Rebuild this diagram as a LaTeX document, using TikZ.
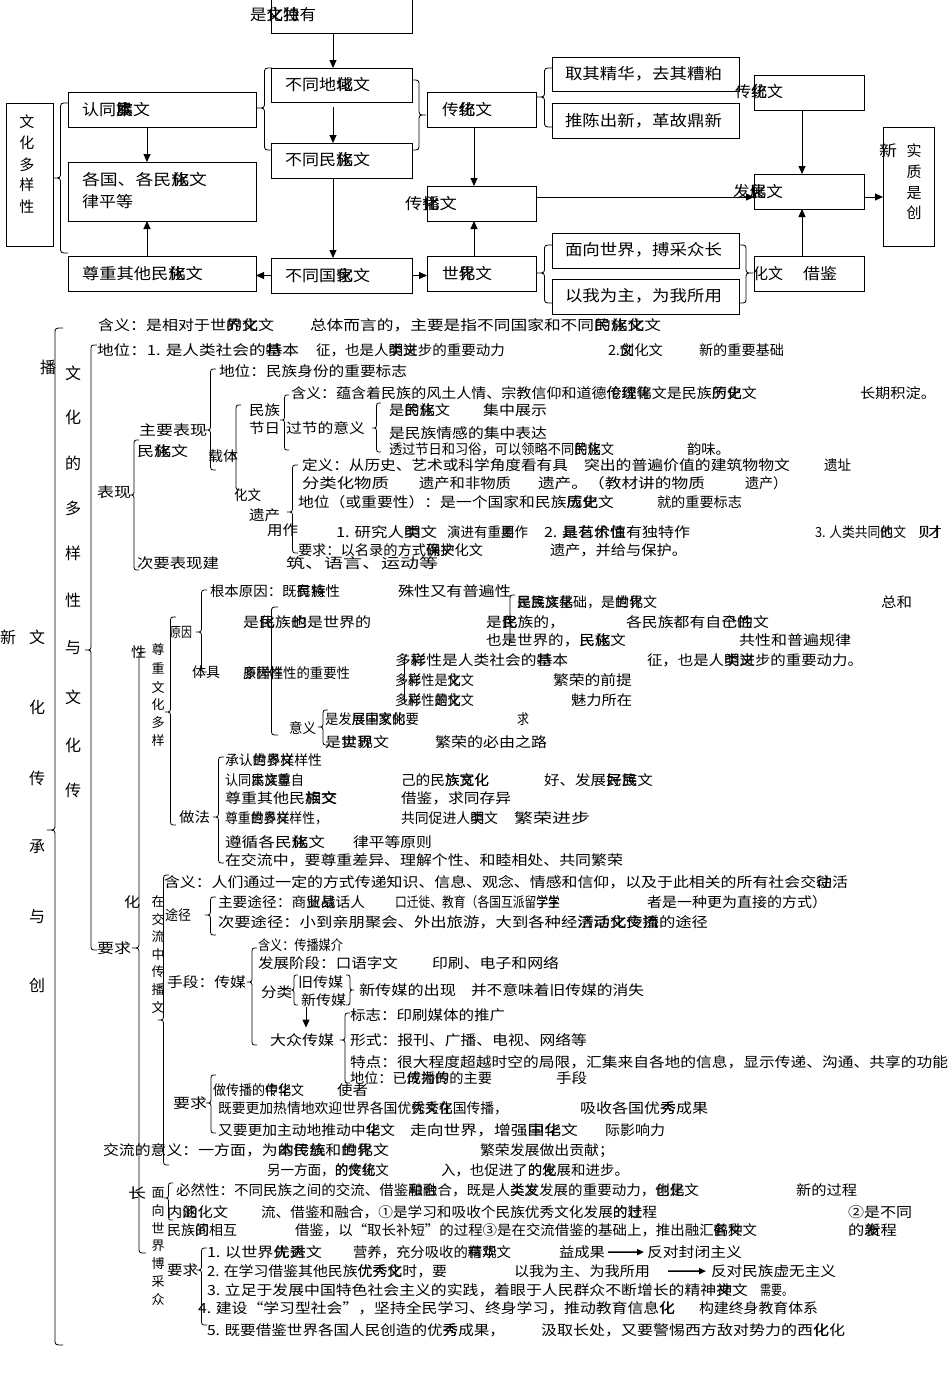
\documentclass[tikz,border=0pt]{standalone}
\usepackage{fontspec}
\setmainfont{Noto Sans CJK SC}
\usepackage{graphicx}
\usetikzlibrary{arrows.meta}
\newcommand\lowf{\fontsize{14}{16}\selectfont}
\newcommand\topf{\fontsize{15.5}{18}\selectfont}
\newcommand\colf{\fontsize{16}{16}\selectfont}
\newcommand\smf{\fontsize{13}{13}\selectfont}
\newcommand\ov[2]{\rlap{#1}#2}
\newcounter{tn}
\newlength\twid
\newcommand\Fitw[3]{%
  \settowidth{\twid}{#2#3}%
  \pgfmathsetmacro\sfx{(#1)/max(\twid,1)}%
  \scalebox{\sfx}[1]{#2#3}}
\newcommand\TT[6]{%
  \node[anchor=base west,inner sep=0pt,outer sep=0pt] (#2) at (#3,#5+5.4) {\Fitw{#4-#3}{#1}{#6}};}
\newcommand\Tx[4]{\stepcounter{tn}\edef\tname{t\arabic{tn}}\TT{\lowf}{\tname}{#1}{#2}{#3}{#4}}
\newcommand\Tn[5]{\TT{\lowf}{#1}{#2}{#3}{#4}{#5}}
\newcommand\Tb[4]{\stepcounter{tn}\edef\tname{t\arabic{tn}}\TT{\topf}{\tname}{#1}{#2}{#3}{#4}}
\newcommand\Brc[5]{%
  \pgfmathsetmacro\bmx{(#1+#2)/2}%
  \pgfmathsetmacro\brr{min(6,(#4-#3)/2,(#5-#4)/2)}%
  \draw[brs] (#2,#3) .. controls (\bmx,#3) .. (\bmx,#3+\brr) -- (\bmx,#4-\brr) .. controls (\bmx,#4) .. (#1,#4) .. controls (\bmx,#4) .. (\bmx,#4+\brr) -- (\bmx,#5-\brr) .. controls (\bmx,#5) .. (#2,#5);}
\newcommand\Bxx[5]{\node[bx,anchor=north west,minimum width={#4-#2},minimum height={#5-#3}] (#1) at (#2,#3) {};}
\tikzset{
  bx/.style={draw,line width=0.9pt,inner sep=0pt,outer sep=0pt},
  brs/.style={line width=0.8pt},
  ar/.style={-{Triangle[length=8pt,width=7pt]},line width=0.9pt},
  bar/.style={-{Triangle[length=7pt,width=6pt]},line width=1.6pt},
  vc/.style={inner sep=0pt,outer sep=0pt,font=\colf},
  vs/.style={inner sep=0pt,outer sep=0pt,font=\smf},
  vt/.style={inner sep=0pt,outer sep=0pt,font=\fontsize{15}{15}\selectfont}
}
\begin{document}
\begin{tikzpicture}[x=1pt,y=-1pt]
\useasboundingbox (0,0) rectangle (950,1373);
\fill[white] (0,0) rectangle (950,1373);
% ---------- top diagram boxes ----------
\Bxx{topb}{271}{-5}{412}{33}
\Bxx{wdb}{6}{103}{53}{246}
\Bxx{rtb}{68}{92}{256}{127}
\Bxx{ggb}{68}{162}{256}{221}
\Bxx{zzb}{68}{256}{256}{291}
\Bxx{bdy}{271}{68}{412}{102}
\Bxx{bmz}{271}{143}{412}{178}
\Bxx{bgj}{271}{258}{412}{293}
\Bxx{ctl}{427}{92}{536}{127}
\Bxx{cbb}{427}{186}{536}{221}
\Bxx{sjb}{427}{256}{536}{291}
\Bxx{qqb}{552}{57}{739}{91}
\Bxx{tcb}{552}{103}{739}{138}
\Bxx{mxb}{552}{233}{739}{268}
\Bxx{ywb}{552}{279}{739}{314}
\Bxx{ctr}{754}{75}{864}{110}
\Bxx{fzb}{754}{174}{864}{209}
\Bxx{jjb}{754}{256}{864}{291}
\Bxx{cxb}{883}{127}{934}{246}
% top texts
\Tb{250}{316}{15}{是\ov{文}{化}\ov{特}{独}有}
\Tb{82}{150}{110}{认同\ov{本}{\ov{民}{族}}文}
\Tb{82}{207}{180}{各国、各民\ov{族}{化}文}
\Tb{82}{133}{202}{律平等}
\Tb{82}{203}{274}{尊重其他民\ov{族}{化}文}
\Tb{285}{370}{85}{不同地\ov{域}{化}文}
\Tb{285}{370}{160}{不同民\ov{族}{化}文}
\Tb{285}{370}{276}{不同国\ov{家}{化}文}
\Tb{442}{492}{110}{传\ov{统}{化}文}
\Tb{405}{457}{204}{传\ov{播}{化}文}
\Tb{442}{492}{274}{世\ov{界}{化}文}
\Tb{565}{722}{74}{取其精华，去其糟粕}
\Tb{565}{722}{121}{推陈出新，革故鼎新}
\Tb{565}{722}{250}{面向世界，搏采众长}
\Tb{565}{722}{296}{以我为主，为我所用}
\Tb{735}{783}{92}{传\ov{统}{化}文}
\Tb{733}{783}{192}{发\ov{展}{化}文}
\Tb{753}{783}{274}{化文}
\Tb{803}{837}{274}{借鉴}
\Tb{879}{897}{151}{新}
\foreach \c/\yy [count=\i] in {实/151,质/172,是/193,创/213} \node[vt] (sz\i) at (914,\yy) {\c};
\foreach \c/\yy [count=\i] in {文/122,化/143,多/165,样/185,性/207} \node[vt] (wd\i) at (27,\yy) {\c};
% top braces
\Brc{53}{68}{103}{178}{253}
\Brc{257}{272}{68}{108}{150}
\Brc{426}{412}{80}{115}{150}
\Brc{537}{552}{68}{97}{127}
\Brc{537}{552}{245}{273}{303}
\Brc{753}{739}{245}{273}{303}
% top arrows
\coordinate (c147) at (147,0);
\coordinate (c333) at (333,0);
\coordinate (c474) at (474,0);
\coordinate (c802) at (802,0);
\coordinate (c197) at (0,197);
\draw[ar] (topb.south -| c333) -- (bdy.north -| c333);
\draw[ar,shorten <=5pt] (bdy.south -| c333) -- (bmz.north -| c333);
\draw[ar] (bmz.south -| c333) -- (bgj.north -| c333);
\draw[ar] (rtb.south -| c147) -- (ggb.north -| c147);
\draw[ar] (zzb.north -| c147) -- (ggb.south -| c147);
\draw[ar] (bgj.west) -- (zzb.east |- bgj.west);
\draw[ar] (bgj.east) -- (sjb.west |- bgj.east);
\draw[ar] (ctl.south -| c474) -- (cbb.north -| c474);
\draw[ar] (sjb.north -| c474) -- (cbb.south -| c474);
\draw[ar] (cbb.east |- c197) -- (fzb.west |- c197);
\draw[ar] (ctr.south -| c802) -- (fzb.north -| c802);
\draw[ar] (jjb.north -| c802) -- (fzb.south -| c802);
\draw[ar] (fzb.east |- c197) -- (cxb.west |- c197);
% ---------- lower outline: columns ----------
\node[vc] (bo1) at (48,367) {播};
\node[vc] (xn1) at (8,637) {新};
\foreach \c/\yy [count=\i] in {文/637,化/707,传/778,承/847,与/917,创/985} \node[vc] (cc\i) at (37,\yy) {\c};
\foreach \c/\yy [count=\i] in {文/373,化/417,的/463,多/508,样/553,性/600,与/648,文/697,化/745,传/790} \node[vc] (dc\i) at (73,\yy) {\c};
\foreach \c/\yy [count=\i] in {尊/650,重/668,文/687,化/705,多/723,样/741} \node[vs] (zc\i) at (158,\yy) {\c};
\foreach \c/\yy [count=\i] in {在/902,交/919.5,流/937,中/954.5,传/972,播/989.5,文/1007} \node[vs] (jc\i) at (158,\yy) {\c};
\foreach \c/\yy [count=\i] in {面/1193,向/1211,世/1228,界/1246,博/1264,采/1282,众/1300} \node[vs] (mc\i) at (158,\yy) {\c};
% ---------- lower braces ----------
\Brc{47}{63}{328}{830}{1345}
\Brc{85}{97}{345}{650}{950}
\Brc{129}{139}{440}{495}{570}
\Brc{205}{216}{369}{430}{470}
\Brc{231}{241}{405}{455}{490}
\Brc{280}{289}{395}{420}{450}
\Brc{372}{381}{403}{428}{452}
\Brc{287}{298}{465}{512}{553}
\Brc{132}{146}{652}{948}{1253}
\Brc{165}{176}{617}{712}{825}
\Brc{196}{207}{590}{632}{672}
\Brc{265}{278}{607}{672}{735}
\Brc{505}{515}{595}{618}{642}
\Brc{400}{409}{656}{680}{705}
\Brc{318}{328}{710}{727}{745}
\Brc{213}{224}{757}{817}{863}
\Brc{158}{169}{875}{1020}{1165}
\Brc{205}{216}{897}{915}{935}
\Brc{247}{257}{948}{982}{1045}
\Brc{290}{298}{975}{990}{1005}
\Brc{354}{346}{975}{990}{1005}
\Brc{340}{350}{1013}{1040}{1083}
\Brc{206}{216}{1075}{1103}{1133}
\Brc{164}{173}{1183}{1198}{1220}
\Brc{196}{207}{1248}{1270}{1325}
% ---------- lower texts ----------
\Tx{98}{274}{325}{含义：是相对于世\ov{界}{的}\ov{文}{化}文}
\Tx{310}{661}{325}{总体而言的，主要是指不同国家和不同\ov{的}{民}\ov{族}{化}\ov{文}{化}文}
\Tx{97}{299}{350}{地位：1. 是人类社会的\ov{基}{特}本}
\Tx{316}{505}{350}{征，也是人\ov{类}{明}\ov{进}{文}步的重要动力}
\Tx{608}{663}{350}{2.\ov{文}{创}化文}
\Tx{699}{784}{350}{新的重要基础}
\Tx{219}{407}{371}{地位：民族身份的重要标志}
\Tx{291}{757}{393}{含义：蕴含着民族的风土人情、宗教信仰和道德\ov{伦}{传}\ov{理}{统}\ov{等}{化}文是民族\ov{的}{历}\ov{史}{化}文}
\Tx{860}{936}{393}{长期积淀。}
\Tx{249}{280}{410}{民族}
\Tx{249}{280}{428}{节日}
\Tx{286}{365}{428}{过节的意义}
\Tx{389}{450}{410}{是\ov{的}{民}\ov{族}{化}文}
\Tx{483}{547}{410}{集中展示}
\Tx{389}{547}{433}{是民族情感的集中表达}
\Tx{139}{207}{430}{主要表现}
\Tx{137}{188}{451}{民\ov{族}{化}文}
\Tx{208}{238}{456}{载体}
\Tx{389}{614}{449}{透过节日和习俗，可以领略不同\ov{的}{民}\ov{族}{化}文}
\Tx{687}{730}{449}{韵味。}
\Tx{97}{131}{492}{表现}
\Tx{302}{568}{465}{定义：从历史、艺术或科学角度看有具}
\Tx{584}{790}{465}{突出的普遍价值的建筑物物文}
\Tx{824}{851}{465}{遗址}
\Tx{302}{389}{483}{分类化物质}
\Tx{419}{511}{483}{遗产和非物质}
\Tx{538}{705}{483}{遗产。（教材讲的物质}
\Tx{745}{787}{483}{遗产）}
\Tx{298}{614}{502}{地位（或重要性）：是一个国家和民族\ov{历}{成}\ov{史}{化}文}
\Tx{657}{742}{502}{就的重要标志}
\Tx{234}{261}{495}{化文}
\Tx{249}{280}{515}{遗产}
\Tx{267}{298}{530}{用作}
\Tx{336}{437}{532}{1. 研究人\ov{类}{明}文}
\Tx{447}{528}{532}{演进有重\ov{要}{用}作}
\Tx{544}{690}{532}{2. \ov{是}{具}\ov{艺}{有}\ov{术}{价}\ov{值}{性}有独特作}
\Tx{815}{906}{532}{3. 人类共同\ov{的}{他}文}
\Tx{918}{942}{532}{财}
\Tx{298}{483}{550}{要求：以名录的方式\ov{确}{保}\ov{护}{文}化文}
\Tx{550}{687}{550}{遗产，并给与保护。}
\Tx{137}{219}{563}{次要表现建}
\Tx{286}{438}{563}{筑、语言、运动等}
\Tx{210}{340}{591}{根本原因：既\ov{有}{民}\ov{族}{特}性}
\Tx{398}{511}{591}{殊性又有普遍性}
\Tx{517}{657}{602}{\ov{民}{是}\ov{族}{民}\ov{文}{族}\ov{化}{基}础，是\ov{世}{的}\ov{界}{化}文}
\Tx{881}{912}{602}{总和}
\Tx{243}{371}{622}{是\ov{民}{化}族\ov{的}{也}是世界的}
\Tx{486}{565}{622}{是\ov{民}{化}族的，}
\Tx{626}{769}{622}{各民族都有自\ov{己}{个}\ov{的}{性}文}
\Tx{486}{626}{640}{也是世界的，\ov{民}{民}\ov{族}{化}文}
\Tx{739}{851}{640}{共性和普遍规律}
\Tx{170}{192}{632}{原因}
\Tx{131}{146}{652}{性}
\Tx{192}{220}{672}{体具}
\Tx{243}{350}{673}{\ov{原}{多}\ov{因}{样}\ov{样}{性}性的重要性}
\Tx{395}{568}{660}{多\ov{样}{彩}性是人类社会的\ov{基}{特}本}
\Tx{647}{863}{660}{征，也是人\ov{类}{明}\ov{进}{文}步的重要动力。}
\Tx{395}{474}{680}{多\ov{样}{彩}性是\ov{文}{化}文}
\Tx{553}{632}{680}{繁荣的前提}
\Tx{395}{474}{700}{多\ov{样}{彩}性\ov{是}{的}\ov{文}{化}文}
\Tx{571}{632}{700}{魅力所在}
\Tx{289}{316}{728}{意义}
\Tx{325}{419}{719}{是发\ov{展}{展}\ov{中}{国}\ov{家}{文}\ov{化}{的}要}
\Tx{517}{529}{719}{求}
\Tx{325}{389}{742}{是\ov{世}{实}\ov{界}{现}文}
\Tx{435}{547}{742}{繁荣的必由之路}
\Tx{225}{322}{760}{承认\ov{世}{的}\ov{界}{多}\ov{文}{样}样性}
\Tx{225}{304}{780}{认同\ov{本}{民}\ov{族}{文}\ov{尊}{重}自}
\Tx{401}{489}{780}{己的民\ov{族}{族}\ov{文}{宽}\ov{化}{化}}
\Tx{544}{653}{780}{好、发展\ov{民}{好}\ov{族}{民}文}
\Tx{225}{337}{798}{尊重其他民\ov{族}{相}\ov{文}{交}}
\Tx{401}{511}{798}{借鉴，求同存异}
\Tx{225}{328}{818}{尊重\ov{世}{的}\ov{界}{多}\ov{文}{样}样性，}
\Tx{401}{498}{818}{共同促进人\ov{类}{明}文}
\Tx{514}{590}{818}{繁荣进步}
\Tx{179}{210}{817}{做法}
\Tx{225}{325}{842}{遵循各民\ov{族}{化}文}
\Tx{353}{432}{842}{律平等原则}
\Tx{225}{623}{860}{在交流中，要尊重差异、理解个性、和睦相处、共同繁荣}
\Tx{164}{848}{882}{含义：人们通过一定的方式传递知识、信息、观念、情感和信仰，以及于此相关的所有社会交\ov{往}{动}活}
\Tx{124}{140}{902}{化}
\Tx{165}{191}{915}{途径}
\Tx{218}{365}{902}{主要途径：商\ov{业}{贸}\ov{易}{战}话人}
\Tx{395}{560}{902}{口迁徙、教育（各国互派留\ov{学}{学}\ov{生}{学}}
\Tx{647}{827}{902}{者是一种更为直接的方式）}
\Tx{218}{708}{922}{次要途径：小到亲朋聚会、外出旅游，大到各种经\ov{济}{活}\ov{活}{动}\ov{文}{化}\ov{交}{传}\ov{流}{播}的途径}
\Tx{97}{131}{948}{要求}
\Tx{258}{343}{945}{含义：传播媒介}
\Tx{258}{398}{963}{发展阶段：口语字文}
\Tx{432}{559}{963}{印刷、电子和网络}
\Tx{167}{246}{982}{手段：传媒}
\Tx{261}{292}{992}{分类}
\Tn{jcm}{298}{343}{982}{旧传媒}
\Tn{xcm}{301}{346}{1000}{新传媒}
\Tx{359}{456}{990}{新传媒的出现}
\Tx{471}{644}{990}{并不意味着旧传媒的消失}
\Tn{dzcm}{270}{334}{1040}{大众传媒}
\Tx{350}{505}{1015}{标志：印刷媒体的推广}
\Tx{350}{587}{1040}{形式：报刊、广播、电视、网络等}
\Tx{350}{948}{1062}{特点：很大程度超越时空的局限，汇集来自各地的信息，显示传递、沟通、共享的功能}
\Tx{350}{492}{1078}{地位：已\ov{成}{传}\ov{为}{播}\ov{传}{的}的主要}
\Tx{556}{587}{1078}{手段}
\Tx{213}{304}{1090}{做传播的\ov{中}{传}\ov{华}{化}文}
\Tx{337}{368}{1090}{使者}
\Tx{173}{207}{1103}{要求}
\Tx{218}{508}{1108}{既要更加热情地欢迎世界各国优\ov{秀}{优}\ov{文}{秀}\ov{在}{化}国传播，}
\Tx{580}{708}{1108}{吸收各国优\ov{秀}{秀}成果}
\Tx{218}{395}{1130}{又要更加主动地推动中\ov{华}{化}文}
\Tx{410}{578}{1130}{走向世界，增强\ov{中}{国}\ov{华}{化}文}
\Tx{605}{665}{1130}{际影响力}
\Tx{103}{389}{1150}{交流的意义：一方面，为\ov{本}{的}\ov{民}{传}\ov{族}{统}和\ov{世}{的}\ov{界}{化}文}
\Tx{480}{614}{1150}{繁荣发展做出贡献；}
\Tx{267}{389}{1170}{另一方面，\ov{的}{的}\ov{文}{传}\ov{化}{统}文}
\Tx{441}{629}{1170}{入，也促进了\ov{的}{的}\ov{化}{发}展和进步。}
\Tx{128}{146}{1193}{长}
\Tx{176}{699}{1190}{必然性：不同民族之间的交流、借鉴\ov{和}{融}\ov{融}{合}合，既是人\ov{类}{类}\ov{文}{发}发展的重要动力，\ov{也}{创}\ov{是}{化}文}
\Tx{796}{857}{1190}{新的过程}
\Tx{167}{228}{1212}{内\ov{涵}{的}\ov{：}{化}文}
\Tx{261}{657}{1212}{流、借鉴和融合，①是学习和吸收个民族优秀文化发展\ov{的}{的}\ov{过}{壮}程}
\Tx{848}{912}{1212}{②是不同}
\Tx{167}{237}{1230}{民族\ov{间}{的}相互}
\Tx{295}{757}{1230}{借鉴，以“取长补短”的过程③是在交流借鉴的基础上，推出融汇\ov{各}{鹤}\ov{种}{文}文}
\Tx{848}{897}{1230}{的\ov{新}{发}程}
\Tx{167}{198}{1270}{要求}
\Tx{207}{322}{1252}{1. 以世界\ov{优}{先}\ov{秀}{进}文}
\Tx{353}{511}{1252}{营养，充分吸收的\ov{有}{精}\ov{华}{观}文}
\Tn{yicg}{559}{605}{1252}{益成果}
\Tn{fdf}{647}{742}{1252}{反对封闭主义}
\Tx{207}{447}{1271}{2. 在学习借鉴其他民族\ov{优}{优}\ov{秀}{秀}\ov{文}{化}时，要}
\Tn{ywwz}{514}{650}{1271}{以我为主、为我所用}
\Tn{fdmz}{711}{836}{1271}{反对民族虚无主义}
\Tx{207}{748}{1290}{3. 立足于发展中国特色社会主义的实践，着眼于人民群众不断增长的精神\ov{文}{神}文}
\Tx{760}{793}{1290}{需要。}
\Tx{198}{675}{1308}{4. 建设“学习型社会”，坚持全民学习、终身学习，推动教育信息\ov{化}{化}}
\Tx{699}{818}{1308}{构建终身教育体系}
\Tx{207}{505}{1330}{5. 既要借鉴世界各国人民创造的优\ov{秀}{秀}成果，}
\Tx{541}{845}{1330}{汲取长处，又要警惕西方敌对势力的西\ov{化}{化}化}
% lower arrows
\coordinate (xa) at ([xshift=5pt]xcm.south west);
\draw[ar,shorten >=6pt] (xa) -- (xa |- dzcm.north);
\draw[bar,shorten <=3pt,shorten >=3pt] (yicg.east) -- (fdf.west);
\draw[bar,shorten <=18pt,shorten >=5pt] (ywwz.east) -- (fdmz.west);
\end{tikzpicture}
\end{document}
